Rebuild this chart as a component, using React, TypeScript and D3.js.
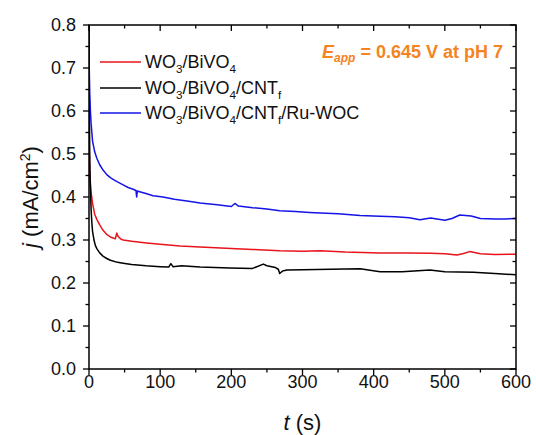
import React from "react";
import * as d3 from "d3";

const tRed = [0, 0.5, 1, 2, 3, 5, 8, 11, 15, 20, 25, 30, 35, 37, 39, 41, 45, 48, 60, 81, 100, 128, 156, 200, 230, 268, 300, 325, 360, 409, 450, 480, 500, 517, 525, 535, 550, 570, 600];
const vRed = [0.57, 0.5, 0.46, 0.43, 0.41, 0.385, 0.36, 0.348, 0.335, 0.322, 0.313, 0.307, 0.304, 0.303, 0.316, 0.308, 0.302, 0.3, 0.297, 0.293, 0.29, 0.286, 0.284, 0.28, 0.278, 0.275, 0.274, 0.275, 0.272, 0.27, 0.27, 0.269, 0.268, 0.265, 0.268, 0.273, 0.268, 0.266, 0.267];

const tBlack = [0, 0.3, 0.6, 1, 1.5, 2, 3, 4, 5, 7, 9, 11, 15, 20, 25, 30, 40, 48, 60, 80, 100, 112, 115, 118, 130, 156, 198, 230, 245, 250, 262, 266, 268, 272, 278, 300, 339, 381, 409, 440, 479, 500, 540, 570, 600];
const vBlack = [0.85, 0.72, 0.6, 0.5, 0.45, 0.42, 0.37, 0.34, 0.32, 0.3, 0.287, 0.28, 0.27, 0.262, 0.257, 0.253, 0.248, 0.246, 0.243, 0.24, 0.238, 0.237, 0.245, 0.238, 0.24, 0.237, 0.235, 0.234, 0.244, 0.24, 0.236, 0.232, 0.222, 0.228, 0.23, 0.231, 0.232, 0.233, 0.226, 0.226, 0.23, 0.226, 0.225, 0.222, 0.219];

const tBlue = [0, 0.5, 1, 2, 3, 5, 8, 11, 15, 20, 25, 30, 35, 40, 48, 55, 62, 66, 67, 68, 70, 80, 90, 104, 120, 140, 156, 180, 200, 205, 210, 230, 250, 268, 290, 310, 325, 350, 381, 409, 430, 450, 465, 480, 500, 510, 521, 537, 550, 570, 585, 600];
const vBlue = [0.75, 0.68, 0.64, 0.6, 0.57, 0.53, 0.505, 0.49, 0.475, 0.462, 0.452, 0.445, 0.44, 0.435, 0.428, 0.422, 0.418, 0.415, 0.4, 0.414, 0.413, 0.408, 0.403, 0.4, 0.395, 0.39, 0.386, 0.382, 0.378, 0.385, 0.379, 0.375, 0.372, 0.368, 0.366, 0.364, 0.363, 0.361, 0.357, 0.355, 0.354, 0.352, 0.347, 0.351, 0.346, 0.35, 0.358, 0.356, 0.35, 0.349, 0.349, 0.35];

const xMajor = [0, 100, 200, 300, 400, 500, 600];
const xMinor = [50, 150, 250, 350, 450, 550];
const yMajor = [0, 0.1, 0.2, 0.3, 0.4, 0.5, 0.6, 0.7, 0.8];
const yMinor = [0.05, 0.15, 0.25, 0.35, 0.45, 0.55, 0.65, 0.75];

const seriesColors = ["#e8141c", "#000000", "#1414e6"];

export default function App() {
  const W = 536, H = 435;
  const L = 89, R = 516, T = 25, B = 369;
  const x = d3.scaleLinear().domain([0, 600]).range([L, R]);
  const y = d3.scaleLinear().domain([0, 0.8]).range([B, T]);
  const line = d3.line<[number, number]>().x(d => x(d[0])).y(d => y(d[1]));
  const series = [
    { t: tRed, v: vRed, c: seriesColors[0] },
    { t: tBlack, v: vBlack, c: seriesColors[1] },
    { t: tBlue, v: vBlue, c: seriesColors[2] },
  ];
  const font = "'Liberation Sans', Arial, sans-serif";
  const legend = [
    { c: seriesColors[0], parts: [["WO", 0], ["3", 1], ["/BiVO", 0], ["4", 1]] },
    { c: seriesColors[1], parts: [["WO", 0], ["3", 1], ["/BiVO", 0], ["4", 1], ["/CNT", 0], ["f", 1]] },
    { c: seriesColors[2], parts: [["WO", 0], ["3", 1], ["/BiVO", 0], ["4", 1], ["/CNT", 0], ["f", 1], ["/Ru-WOC", 0]] },
  ] as { c: string; parts: [string, number][] }[];
  const legendY = [62, 88, 113];

  const sub = (parts: [string, number][], fs: number) => {
    let prev = 0;
    return parts.map(([s, isSub], i) => {
      const dy = isSub && !prev ? fs * 0.3 : !isSub && prev ? -fs * 0.3 : 0;
      prev = isSub;
      return (
        <tspan key={i} dy={dy} fontSize={isSub ? fs * 0.65 : fs}>{s}</tspan>
      );
    });
  };

  return (
    <svg width={W} height={H} style={{ position: "absolute", left: 0, top: 0, background: "#fff" }} fontFamily={font}>
      <defs>
        <clipPath id="plotclip">
          <rect x={L} y={T} width={R - L} height={B - T} />
        </clipPath>
      </defs>
      <g clipPath="url(#plotclip)">
        {series.map((s, i) => (
          <path key={i} d={line(s.t.map((t, j) => [t, s.v[j]] as [number, number])) || ""} fill="none" stroke={s.c} strokeWidth={1.5} strokeLinejoin="round" />
        ))}
      </g>
      <rect x={L} y={T} width={R - L} height={B - T} fill="none" stroke="#000" strokeWidth={1.5} />
      {xMajor.map(v => (
        <g key={"xm" + v}>
          <line x1={x(v)} x2={x(v)} y1={B} y2={B + 6} stroke="#000" strokeWidth={1.3} />
          <line x1={x(v)} x2={x(v)} y1={T} y2={T + 6} stroke="#000" strokeWidth={1.3} />
          <text x={x(v)} y={B + 19} textAnchor="middle" fontSize={18} fill="#111">{v}</text>
        </g>
      ))}
      {xMinor.map(v => (
        <g key={"xn" + v}>
          <line x1={x(v)} x2={x(v)} y1={B} y2={B + 3.5} stroke="#000" strokeWidth={1.3} />
          <line x1={x(v)} x2={x(v)} y1={T} y2={T + 3.5} stroke="#000" strokeWidth={1.3} />
        </g>
      ))}
      {yMajor.map(v => (
        <g key={"ym" + v}>
          <line x1={L - 6} x2={L} y1={y(v)} y2={y(v)} stroke="#000" strokeWidth={1.3} />
          <line x1={R - 6} x2={R} y1={y(v)} y2={y(v)} stroke="#000" strokeWidth={1.3} />
          <text x={L - 13} y={y(v)} dy="0.35em" textAnchor="end" fontSize={18} fill="#111">{v.toFixed(1)}</text>
        </g>
      ))}
      {yMinor.map(v => (
        <g key={"yn" + v}>
          <line x1={L - 3.5} x2={L} y1={y(v)} y2={y(v)} stroke="#000" strokeWidth={1.3} />
          <line x1={R - 3.5} x2={R} y1={y(v)} y2={y(v)} stroke="#000" strokeWidth={1.3} />
        </g>
      ))}
      <text x={(L + R) / 2} y={430} textAnchor="middle" fontSize={22} fill="#111">
        <tspan fontStyle="italic">t</tspan> (s)
      </text>
      <text transform={`translate(38,${(T + B) / 2}) rotate(-90)`} textAnchor="middle" fontSize={22} fill="#111">
        <tspan fontStyle="italic">j</tspan> (mA/cm<tspan dy={-8} fontSize={14}>2</tspan><tspan dy={8}>)</tspan>
      </text>
      {legend.map((l, i) => (
        <g key={"lg" + i}>
          <line x1={100} x2={141} y1={legendY[i]} y2={legendY[i]} stroke={l.c} strokeWidth={1.6} />
          <text x={145} y={legendY[i] + 6} fontSize={18} fill="#111">{sub(l.parts, 18)}</text>
        </g>
      ))}
      <text x={503} y={58} textAnchor="end" fontSize={18} fontWeight="bold" fill="#f5841f">
        <tspan fontStyle="italic">E</tspan><tspan fontStyle="italic" fontSize={12} dy={4}>app</tspan><tspan dy={-4}> = 0.645 V at pH 7</tspan>
      </text>
    </svg>
  );
}
